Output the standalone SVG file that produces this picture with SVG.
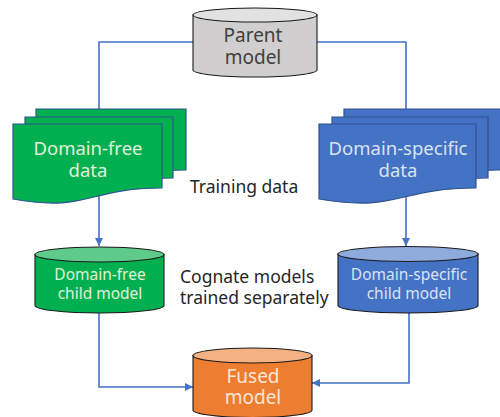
<svg xmlns="http://www.w3.org/2000/svg" width="500" height="417" viewBox="0 0 500 417">
  <style>
    .conn { fill: none; stroke: #4472C4; stroke-width: 1.6; }
    .doc-g { fill: #00B050; stroke: #2F528F; stroke-width: 1.2; }
    .doc-b { fill: #4472C4; stroke: #2F528F; stroke-width: 1.2; }
    .cyl { stroke: #1a1a1a; stroke-width: 1.1; }
    text { font-family: "Noto Sans", "DejaVu Sans", sans-serif; text-anchor: middle; }
    .lbl { font-size: 17.5px; fill: #262626; text-anchor: start; }
  </style>
  <defs>
    <marker id="arrow" viewBox="0 0 10 10" refX="10" refY="5" markerWidth="5" markerHeight="5" orient="auto" markerUnits="strokeWidth">
      <path d="M0,0 L10,5 L0,10 Z" fill="#4472C4"/>
    </marker>
  </defs>
  <rect width="500" height="417" fill="#FFFFFF"/>

  <!-- connectors -->
  <g id="connectors">
    <path class="conn" d="M193,42 H99 V246" marker-end="url(#arrow)"/>
    <path class="conn" d="M317,42 H406 V246" marker-end="url(#arrow)"/>
    <path class="conn" d="M99,313 V387 H193" marker-end="url(#arrow)"/>
    <path class="conn" d="M409,313 V383 H312" marker-end="url(#arrow)"/>
  </g>

  <!-- parent model -->
  <g id="parent-model">
    <path class="cyl" fill="#D0CECE" d="M193,15 V70 A62,7 0 0 0 317,70 V15 Z"/>
    <ellipse class="cyl" cx="255" cy="15" rx="62" ry="7" fill="#E3E2E2"/>
    <text x="253" y="42" font-size="19" fill="#404040">Parent</text>
    <text x="253" y="64" font-size="19" fill="#404040">model</text>
  </g>

  <!-- domain-free data (stacked documents) -->
  <g id="domain-free-data">
    <path class="doc-g" d="M36,109 H186 V170 C111,170 111,194.6 36,181 Z"/>
    <path class="doc-g" d="M25,117 H173 V178 C99,178 99,202.6 25,189 Z"/>
    <path class="doc-g" d="M13,124 H162 V188 C87.5,188 87.5,212.6 13,199 Z"/>
    <text x="88" y="155" font-size="18.5" fill="#E2F0D9">Domain-free</text>
    <text x="88" y="177" font-size="18.5" fill="#E2F0D9">data</text>
  </g>

  <!-- domain-specific data (stacked documents) -->
  <g id="domain-specific-data">
    <path class="doc-b" d="M344,109 H501 V170 C422,170 422,194.6 344,181 Z"/>
    <path class="doc-b" d="M332,117 H488 V178 C410,178 410,202.6 332,189 Z"/>
    <path class="doc-b" d="M319,124 H476 V188 C397.5,188 397.5,212.6 319,199 Z"/>
    <text x="398" y="155" font-size="18.5" fill="#DAE3F3">Domain-specific</text>
    <text x="398" y="177" font-size="18.5" fill="#DAE3F3">data</text>
  </g>

  <!-- side labels -->
  <g id="training-data-label">
    <text class="lbl" x="190" y="193">Training data</text>
  </g>
  <g id="cognate-label">
    <text class="lbl" x="180" y="283">Cognate models</text>
    <text class="lbl" x="180" y="304">trained separately</text>
  </g>

  <!-- domain-free child model -->
  <g id="domain-free-child">
    <path class="cyl" fill="#00B050" d="M35,254.5 V305.5 A64.5,7.5 0 0 0 164,305.5 V254.5 Z"/>
    <ellipse class="cyl" cx="99.5" cy="254.5" rx="64.5" ry="7.5" fill="#5FCB8A"/>
    <text x="100" y="280" font-size="15.5" fill="#E2F0D9">Domain-free</text>
    <text x="100" y="299" font-size="15.5" fill="#E2F0D9">child model</text>
  </g>

  <!-- domain-specific child model -->
  <g id="domain-specific-child">
    <path class="cyl" fill="#4472C4" d="M338,254 V305.5 A70,7.5 0 0 0 478,305.5 V254 Z"/>
    <ellipse class="cyl" cx="408" cy="254" rx="70" ry="7.5" fill="#8FAADC"/>
    <text x="409" y="280" font-size="15.5" fill="#DAE3F3">Domain-specific</text>
    <text x="409" y="299" font-size="15.5" fill="#DAE3F3">child model</text>
  </g>

  <!-- fused model -->
  <g id="fused-model">
    <path class="cyl" fill="#ED7D31" d="M193,355.5 V410 A59.5,7.5 0 0 0 312,410 V355.5 Z"/>
    <ellipse class="cyl" cx="252.5" cy="355.5" rx="59.5" ry="7.5" fill="#F4B183"/>
    <text x="253" y="383" font-size="19" fill="#FBE5D6">Fused</text>
    <text x="253" y="404" font-size="19" fill="#FBE5D6">model</text>
  </g>
</svg>
